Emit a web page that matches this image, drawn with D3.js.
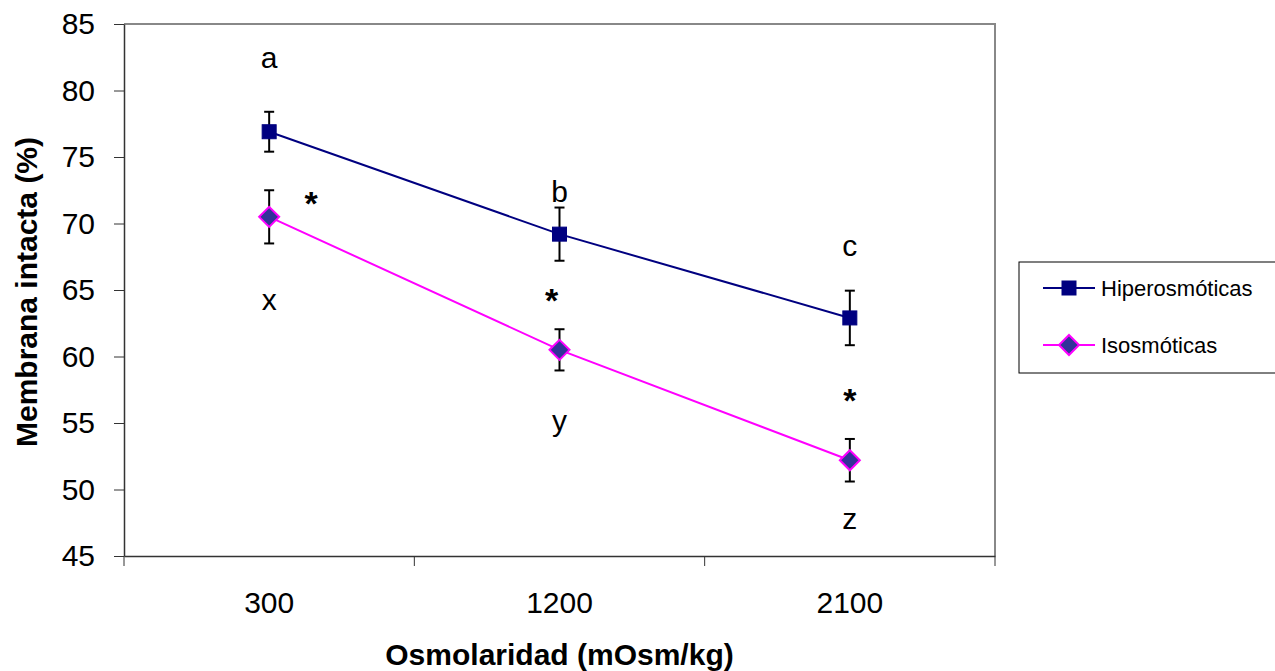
<!DOCTYPE html>
<html>
<head>
<meta charset="utf-8">
<script src="https://cdn.jsdelivr.net/npm/d3@7"></script>
<style>
  body { margin: 0; background: #fff; }
  svg { font-family: "Liberation Sans", Arial, sans-serif; }
</style>
</head>
<body>
<div id="chart"></div>
<script>
// Data
const categories = ["300", "1200", "2100"];
const hiperMeans = [76.9, 69.2, 62.9];
const hiperErr = [1.5, 2.0, 2.05];
const isoMeans = [70.5, 60.5, 52.2];
const isoErr = [2.0, 1.55, 1.6];
const yTicks = [45, 50, 55, 60, 65, 70, 75, 80, 85];
const seriesNames = ["Hiperosmóticas", "Isosmóticas"];
// letters above/below each point (value = text centre)
const letterLabels = [
  {cat: "300", text: "a", v: 82.4}, {cat: "1200", text: "b", v: 72.3}, {cat: "2100", text: "c", v: 68.2},
  {cat: "300", text: "x", v: 64.2}, {cat: "1200", text: "y", v: 55.1}, {cat: "2100", text: "z", v: 47.7}
];
const starLabels = [
  {cat: "300", v: 72.1, dx: 42}, {cat: "1200", v: 64.8, dx: -8}, {cat: "2100", v: 57.3, dx: 0}
];

// Dimensions
const margin = {top: 24, right: 280, bottom: 115, left: 124};
const totalW = 1275, totalH = 671;
const width = totalW - margin.left - margin.right;
const height = totalH - margin.top - margin.bottom;

const svg = d3.select("#chart")
  .append("svg")
  .attr("width", totalW)
  .attr("height", totalH);

const g = svg.append("g")
  .attr("transform", `translate(${margin.left},${margin.top})`);

// Scales
const xScale = d3.scaleBand().domain(categories).range([0, width]);
const yScale = d3.scaleLinear().domain([45, 85]).range([height, 0]);
const xc = c => xScale(c) + xScale.bandwidth() / 2;

// Frame (gray top & right)
g.append("path")
  .attr("d", `M0,0H${width}V${height}`)
  .attr("fill", "none")
  .attr("stroke", "#888")
  .attr("stroke-width", 2);

// Y axis
const yAxis = g.append("g")
  .call(d3.axisLeft(yScale).tickValues(yTicks).tickSize(10).tickSizeOuter(0));
yAxis.select(".domain").attr("stroke", "#333").attr("stroke-width", 1.5);
yAxis.selectAll(".tick line").attr("stroke", "#333");
yAxis.selectAll(".tick text")
  .attr("x", -29)
  .attr("font-size", 30)
  .attr("font-family", "Liberation Sans, Arial, sans-serif")
  .attr("fill", "#000");

// X axis
const xAxis = g.append("g")
  .attr("transform", `translate(0,${height})`)
  .call(d3.axisBottom(xScale).tickSize(0).tickSizeOuter(0));
xAxis.select(".domain").attr("stroke", "#333").attr("stroke-width", 1.5);
xAxis.selectAll(".tick text")
  .attr("y", 57)
  .attr("dy", 0)
  .attr("font-size", 30)
  .attr("font-family", "Liberation Sans, Arial, sans-serif")
  .attr("fill", "#000");
// boundary ticks between categories
const bounds = [0].concat(categories.map(c => xScale(c) + xScale.bandwidth()));
g.selectAll(".btick")
  .data(bounds)
  .enter()
  .append("line")
  .attr("x1", d => d).attr("x2", d => d)
  .attr("y1", height).attr("y2", height + 10)
  .attr("stroke", "#333");

// Axis titles
g.append("text")
  .attr("x", width / 2)
  .attr("y", height + 109)
  .attr("text-anchor", "middle")
  .attr("font-size", 30)
  .attr("font-weight", "bold")
  .text("Osmolaridad (mOsm/kg)");

g.append("text")
  .attr("transform", `translate(${-87},${height / 2 + 2}) rotate(-90)`)
  .attr("text-anchor", "middle")
  .attr("font-size", 30)
  .attr("font-weight", "bold")
  .text("Membrana intacta (%)");

// Series
const series = [
  {name: seriesNames[0], means: hiperMeans, err: hiperErr, line: "#000080", fill: "#000080", stroke: "#000080", shape: "square"},
  {name: seriesNames[1], means: isoMeans, err: isoErr, line: "#FF00FF", fill: "#333399", stroke: "#FF00FF", shape: "diamond"}
];

function drawMarker(sel, s) {
  if (s.shape === "square") {
    sel.append("rect")
      .attr("x", -7).attr("y", -7).attr("width", 14).attr("height", 14)
      .attr("fill", s.fill).attr("stroke", s.stroke).attr("stroke-width", 1);
  } else {
    sel.append("path")
      .attr("d", "M0,-10L10,0L0,10L-10,0Z")
      .attr("fill", s.fill).attr("stroke", s.stroke).attr("stroke-width", 2);
  }
}

const line = d3.line().x(d => xc(d.c)).y(d => yScale(d.v));

series.forEach(s => {
  const pts = categories.map((c, i) => ({c: c, v: s.means[i], e: s.err[i]}));

  g.append("path")
    .datum(pts)
    .attr("fill", "none")
    .attr("stroke", s.line)
    .attr("stroke-width", 2)
    .attr("d", line);

  // error bars
  const eb = g.selectAll(null).data(pts).enter().append("g")
    .attr("stroke", "#000").attr("stroke-width", 2);
  eb.append("line")
    .attr("x1", d => xc(d.c)).attr("x2", d => xc(d.c))
    .attr("y1", d => yScale(d.v + d.e)).attr("y2", d => yScale(d.v - d.e));
  eb.append("line")
    .attr("x1", d => xc(d.c) - 5).attr("x2", d => xc(d.c) + 5)
    .attr("y1", d => yScale(d.v + d.e)).attr("y2", d => yScale(d.v + d.e));
  eb.append("line")
    .attr("x1", d => xc(d.c) - 5).attr("x2", d => xc(d.c) + 5)
    .attr("y1", d => yScale(d.v - d.e)).attr("y2", d => yScale(d.v - d.e));

  pts.forEach(d => {
    const m = g.append("g").attr("transform", `translate(${xc(d.c)},${yScale(d.v)})`);
    drawMarker(m, s);
  });
});

// Letter annotations
g.selectAll(".letter")
  .data(letterLabels)
  .enter()
  .append("text")
  .attr("x", d => xc(d.cat))
  .attr("y", d => yScale(d.v))
  .attr("dy", "0.3em")
  .attr("text-anchor", "middle")
  .attr("font-size", 30)
  .text(d => d.text);

g.selectAll(".star")
  .data(starLabels)
  .enter()
  .append("text")
  .attr("x", d => xc(d.cat) + d.dx)
  .attr("y", d => yScale(d.v))
  .attr("dy", "0.58em")
  .attr("text-anchor", "middle")
  .attr("font-size", 34)
  .attr("font-weight", "bold")
  .text("*");

// Legend
const legend = svg.append("g").attr("transform", "translate(1019,262)");
legend.append("rect")
  .attr("x", 0).attr("y", 0)
  .attr("width", 270).attr("height", 111)
  .attr("fill", "#fff")
  .attr("stroke", "#000")
  .attr("stroke-width", 1);

series.forEach((s, i) => {
  const ly = 26 + i * 57;
  legend.append("line")
    .attr("x1", 24).attr("x2", 76)
    .attr("y1", ly).attr("y2", ly)
    .attr("stroke", s.line).attr("stroke-width", 2);
  const m = legend.append("g").attr("transform", `translate(50,${ly})`);
  drawMarker(m, s);
  legend.append("text")
    .attr("x", 82)
    .attr("y", ly)
    .attr("dy", "0.35em")
    .attr("font-size", 22)
    .text(s.name);
});
</script>
</body>
</html>
